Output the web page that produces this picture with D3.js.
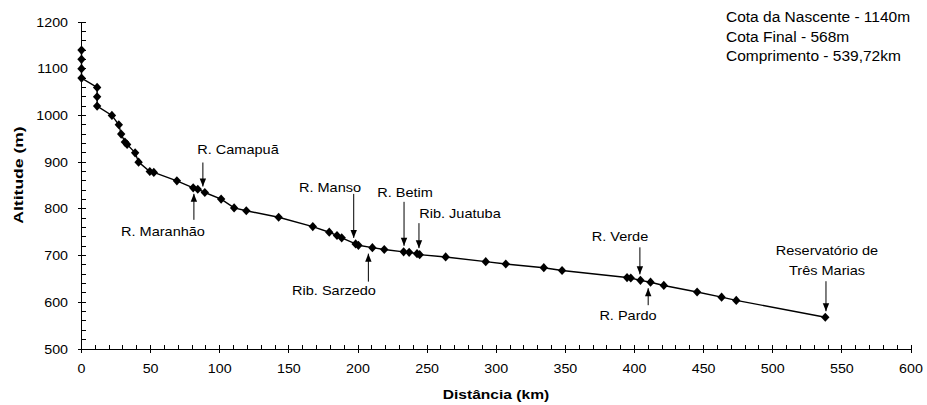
<!DOCTYPE html>
<html>
<head>
<meta charset="utf-8">
<script src="https://cdn.jsdelivr.net/npm/d3@7"></script>
<style>
  html, body { margin: 0; padding: 0; background: #fff; }
  svg { display: block; }
  text { font-family: "Liberation Sans", Arial, sans-serif; fill: #000; }
</style>
</head>
<body>
<svg id="chart" width="927" height="405"></svg>
<script>
// ---- data ----
const distanceKm = [0, 0, 0, 0, 11.3, 11.3, 11.3, 22, 27, 28.7, 31.4, 33, 38.8, 41.3, 49.4, 52.3, 69, 80.8, 84.1, 89.2, 101, 110.4, 119.2, 142.6, 167.3, 179.2, 184.8, 188.2, 198.3, 200.3, 210.4, 219, 233, 237, 242.7, 244.6, 263.4, 292.4, 306.9, 334.4, 347.6, 394.6, 397.3, 404.3, 411.6, 421.2, 445.3, 463, 473.6, 538];
const altitudeM  = [1140, 1120, 1100, 1080, 1060, 1040, 1020, 1000, 980, 960, 943, 938, 920, 900, 880, 878, 860, 845, 842, 835, 821, 802, 796, 782, 762, 750, 743, 738, 725, 722, 717, 713, 708, 707, 704, 702, 697, 687, 682, 674, 668, 653, 652, 647, 643, 636, 622, 611, 604, 568];

const xTicks = [0, 50, 100, 150, 200, 250, 300, 350, 400, 450, 500, 550, 600];
const yTicks = [500, 600, 700, 800, 900, 1000, 1100, 1200];

const annoLabels = [["R. Camapuã"], ["R. Maranhão"], ["R. Manso"], ["Rib. Sarzedo"], ["R. Betim"], ["Rib. Juatuba"], ["R. Verde"], ["R. Pardo"], ["Reservatório de", "Três Marias"]];
const annoKm  = [87.8, 81.3, 196.9, 207.5, 233.3, 244.1, 403.9, 409.9, 538.5];
const annoAlt = [835, 845, 725, 717, 708, 703, 647, 643, 568];
const annoDir = ["down", "up", "down", "up", "down", "down", "down", "up", "down"];

const infoLines = ["Cota da Nascente - 1140m", "Cota Final - 568m", "Comprimento - 539,72km"];

// ---- layout ----
const svg = d3.select("#chart");
const x = d3.scaleLinear().domain([0, 600]).range([81.5, 911]);
const y = d3.scaleLinear().domain([500, 1200]).range([349, 22]);

function stext(g, tx, ty, str, opts) {
  const o = Object.assign({size: 12, sx: 1, anchor: "start", weight: "normal", rotate: 0}, opts || {});
  return g.append("text")
    .attr("transform", `translate(${tx},${ty}) rotate(${o.rotate}) scale(${o.sx},1)`)
    .attr("text-anchor", o.anchor)
    .attr("font-size", o.size)
    .attr("font-weight", o.weight)
    .text(str);
}

// axes
const axisG = svg.append("g").attr("stroke", "#000").attr("stroke-width", 1).attr("shape-rendering", "crispEdges");
axisG.append("line").attr("x1", x(0)).attr("x2", x(600)).attr("y1", y(500)).attr("y2", y(500));
axisG.append("line").attr("x1", x(0)).attr("x2", x(0)).attr("y1", y(500)).attr("y2", y(1200));

// x ticks: major crossing, minor inside
d3.range(0, 601, 10).forEach(v => {
  const major = v % 50 === 0;
  axisG.append("line").attr("x1", x(v)).attr("x2", x(v))
    .attr("y1", y(500) - 4).attr("y2", y(500) + (major ? 4 : 0));
});
d3.range(500, 1201, 20).forEach(v => {
  const major = v % 100 === 0;
  axisG.append("line").attr("y1", y(v)).attr("y2", y(v))
    .attr("x1", x(0) - (major ? 4 : 0)).attr("x2", x(0) + 4);
});

const lab = svg.append("g");
xTicks.forEach(v => stext(lab, x(v), 373, String(v), {size: 12.3, sx: 1.16, anchor: "middle"}));
yTicks.forEach(v => stext(lab, 68, y(v) + 4.5, String(v), {size: 12.3, sx: 1.16, anchor: "end"}));

stext(lab, 496, 399, "Distância (km)", {size: 13, sx: 1.2, anchor: "middle", weight: "bold"});
stext(lab, 23, 175, "Altitude (m)", {size: 13.5, sx: 1.3, anchor: "middle", weight: "bold", rotate: -90});

// line
const pts = distanceKm.map((d, i) => [d, altitudeM[i]]);
svg.append("path")
  .datum(pts)
  .attr("fill", "none")
  .attr("stroke", "#000")
  .attr("stroke-width", 1.4)
  .attr("d", d3.line().x(d => x(d[0])).y(d => y(d[1])));

// markers
svg.append("g").selectAll("path").data(pts).join("path")
  .attr("transform", d => `translate(${x(d[0])},${y(d[1])})`)
  .attr("d", "M0,-4.6L4.2,0L0,4.6L-4.2,0Z")
  .attr("fill", "#000");

// annotations
const ann = svg.append("g");
annoLabels.forEach((lines, i) => {
  const ax = x(annoKm[i]);
  const py = y(annoAlt[i]);
  let tip, tail;
  if (annoDir[i] === "down") {
    tip = py - 6; tail = tip - (lines.length > 1 ? 30 : (i === 0 ? 24 : i === 5 ? 25 : i === 6 ? 27 : 44));
  } else {
    tip = py + 6; tail = tip + (i === 1 ? 26 : i === 3 ? 28 : 17);
  }
  ann.append("line").attr("x1", ax).attr("x2", ax).attr("y1", tail).attr("y2", tip)
    .attr("stroke", "#000").attr("stroke-width", 1);
  const s = annoDir[i] === "down" ? -1 : 1;
  ann.append("path")
    .attr("d", `M${ax},${tip}L${ax - 3.2},${tip + s * 8}L${ax + 3.2},${tip + s * 8}Z`)
    .attr("fill", "#000");
});

// label placement (relative to arrow)
const labelPos = [
  [238, 154], [163, 236], [330, 192], [334, 295], [405, 197], [460, 218], [620, 241], [628, 320], [827, 255]
];
annoLabels.forEach((lines, i) => {
  lines.forEach((t, j) => stext(ann, labelPos[i][0], labelPos[i][1] + j * 19.5, t, {size: 13.2, sx: 1.1, anchor: "middle"}));
});

// info text
infoLines.forEach((t, i) => stext(svg, 726, 22 + i * 19.5, t, {size: 15.5}));
</script>
</body>
</html>
